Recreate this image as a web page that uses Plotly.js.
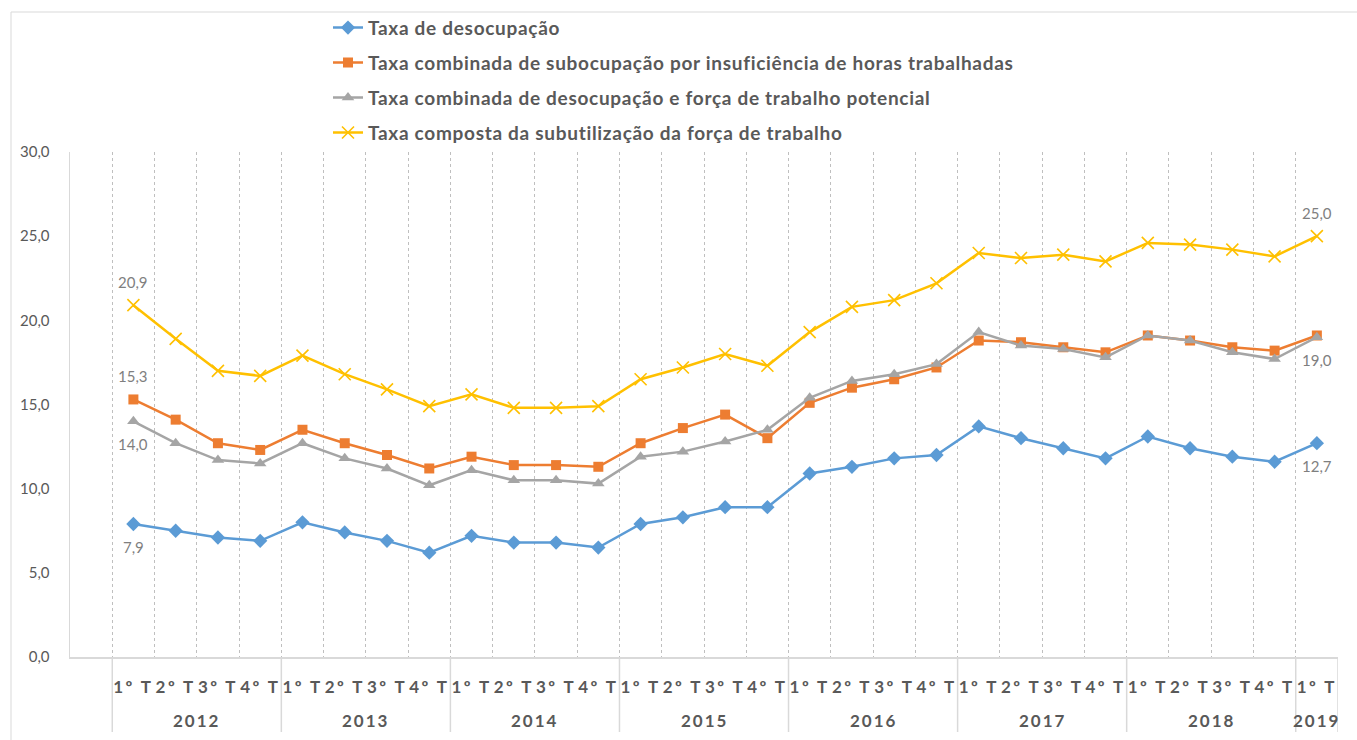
<!DOCTYPE html>
<html>
<head>
<meta charset="utf-8">
<script src="https://cdn.plot.ly/plotly-3.0.1.min.js"></script>
<style>
  html, body { margin: 0; padding: 0; background: #ffffff; }
  #chart { width: 1357px; height: 740px; }
  .xtick text { letter-spacing: 2.4px; }
  .legendtext { letter-spacing: 0.7px; }
</style>
</head>
<body>
<div id="chart"></div>
<script>
// ---- data ----
const years = ["2012", "2013", "2014", "2015", "2016", "2017", "2018", "2019"];
const quartersPerYear = [4, 4, 4, 4, 4, 4, 4, 1];
const quarterNames = ["1º T", "2º T", "3º T", "4º T"];

const seriesNames = [
  "Taxa de desocupação",
  "Taxa combinada de subocupação por insuficiência de horas trabalhadas",
  "Taxa combinada de desocupação e força de trabalho potencial",
  "Taxa composta da subutilização da força de trabalho"
];

const desocupacao = [7.9, 7.5, 7.1, 6.9, 8.0, 7.4, 6.9, 6.2, 7.2, 6.8, 6.8, 6.5,
  7.9, 8.3, 8.9, 8.9, 10.9, 11.3, 11.8, 12.0, 13.7, 13.0, 12.4, 11.8,
  13.1, 12.4, 11.9, 11.6, 12.7];
const subocupacao = [15.3, 14.1, 12.7, 12.3, 13.5, 12.7, 12.0, 11.2, 11.9, 11.4, 11.4, 11.3,
  12.7, 13.6, 14.4, 13.0, 15.1, 16.0, 16.5, 17.2, 18.8, 18.7, 18.4, 18.1,
  19.1, 18.8, 18.4, 18.2, 19.1];
const forcaPotencial = [14.0, 12.7, 11.7, 11.5, 12.7, 11.8, 11.2, 10.2, 11.1, 10.5, 10.5, 10.3,
  11.9, 12.2, 12.8, 13.5, 15.4, 16.4, 16.8, 17.4, 19.3, 18.5, 18.3, 17.8,
  19.1, 18.8, 18.1, 17.7, 19.0];
const composta = [20.9, 18.9, 17.0, 16.7, 17.9, 16.8, 15.9, 14.9, 15.6, 14.8, 14.8, 14.9,
  16.5, 17.2, 18.0, 17.3, 19.3, 20.8, 21.2, 22.2, 24.0, 23.7, 23.9, 23.5,
  24.6, 24.5, 24.2, 23.8, 25.0];

// ---- build category positions (slot 0 is an empty category) ----
const tickLabels = [];
const xIdx = [];
const yearCenters = [];
const boundaries = [0.5];
let pos = 1;
quartersPerYear.forEach((n, k) => {
  const start = pos;
  for (let q = 0; q < n; q++) {
    tickLabels.push(quarterNames[q]);
    xIdx.push(pos);
    pos++;
  }
  yearCenters.push((start + pos - 1) / 2);
  boundaries.push(pos - 0.5);
});
const minorGrid = [];
for (let b = 0.5; b <= pos - 0.5; b += 1) minorGrid.push(b);

// ---- styles ----
const styles = [
  { color: "#5B9BD5", symbol: "diamond", size: 11, labelPos: -1, first: true, last: true },
  { color: "#ED7D31", symbol: "square", size: 10, labelPos: 1, first: true, last: false },
  { color: "#A5A5A5", symbol: "triangle-up", size: 11, labelPos: -1, first: true, last: true },
  { color: "#FFC000", symbol: "x-thin-open", size: 12, labelPos: 1, first: true, last: true }
];
const allSeries = [desocupacao, subocupacao, forcaPotencial, composta];

const fmt = v => v.toFixed(1).replace(".", ",");

const traces = allSeries.map((vals, i) => {
  const s = styles[i];
  const marker = { symbol: s.symbol, size: s.size, color: s.color };
  if (s.symbol === "x-thin-open") marker.line = { color: s.color, width: 1.6 };
  return {
    type: "scatter",
    mode: "lines+markers",
    name: seriesNames[i],
    legendgroup: "g" + i,
    x: xIdx,
    y: vals,
    line: { color: s.color, width: 2.5 },
    marker: marker,
    hoverinfo: "skip"
  };
});

const annotations = [];
allSeries.forEach((vals, i) => {
  const s = styles[i];
  const pts = [];
  if (s.first) pts.push(0);
  if (s.last) pts.push(vals.length - 1);
  pts.forEach(p => {
    annotations.push({
      x: xIdx[p], y: vals[p], xref: "x", yref: "y",
      text: fmt(vals[p]), showarrow: false,
      yshift: 23 * s.labelPos,
      font: { family: "Lato", size: 15, color: "#7f7f7f" }
    });
  });
});

const plotH = 740 - 152 - 83;
years.forEach((yr, k) => {
  annotations.push({
    x: yearCenters[k], xref: "x",
    y: -(720 - 657) / plotH, yref: "paper",
    yanchor: "middle",
    text: '<span style="letter-spacing:2px">' + yr + '</span>',
    showarrow: false,
    font: { family: "Lato", size: 17, color: "#595959", weight: "bold" }
  });
});

const shapes = boundaries.map(b => ({
  type: "line", xref: "x", yref: "paper",
  x0: b, x1: b, y0: 0, y1: -(732 - 657) / plotH,
  line: { color: "#d9d9d9", width: 1.5 }
}));
// chart frame (left & top edges visible)
shapes.push({
  type: "rect", xref: "paper", yref: "paper",
  x0: (11 - 70) / 1268, x1: 1.2, y0: -0.6, y1: 1 + (152 - 12) / plotH,
  line: { color: "#d9d9d9", width: 1 }, layer: "below"
});

const layout = {
  width: 1357, height: 740,
  margin: { l: 70, r: 19, t: 152, b: 83, pad: 0, autoexpand: false },
  paper_bgcolor: "#ffffff", plot_bgcolor: "#ffffff",
  separators: ",.",
  showlegend: true,
  legend: {
    orientation: "v",
    x: (328 - 70) / 1268, xanchor: "left",
    y: 1 + (152 - 8.7) / plotH, yanchor: "top",
    font: { family: "Lato", size: 19, color: "#595959", weight: "bold" },
    tracegroupgap: 7.3,
    bgcolor: "rgba(0,0,0,0)"
  },
  xaxis: {
    range: [-0.5, pos - 0.5],
    tickmode: "array", tickvals: xIdx, ticktext: tickLabels,
    showgrid: false, zeroline: false,
    showline: true, linecolor: "#d9d9d9", linewidth: 1.5,
    ticks: "", ticklabelstandoff: 14,
    tickfont: { family: "Lato", size: 17, color: "#595959", weight: "bold" },
    minor: { tickmode: "array", tickvals: minorGrid, showgrid: true, gridcolor: "#bfbfbf", griddash: "dot", gridwidth: 1, ticks: "" },
    fixedrange: true
  },
  yaxis: {
    range: [0, 30], dtick: 5, tick0: 0, tickformat: ".1f",
    showgrid: false, zeroline: false,
    showline: true, linecolor: "#d9d9d9", linewidth: 1.5,
    ticks: "", ticklabelstandoff: 16,
    tickfont: { family: "Lato", size: 15, color: "#595959" },
    fixedrange: true
  },
  annotations: annotations,
  shapes: shapes
};

Plotly.newPlot("chart", traces, layout, { displayModeBar: false, staticPlot: true });
</script>
</body>
</html>
